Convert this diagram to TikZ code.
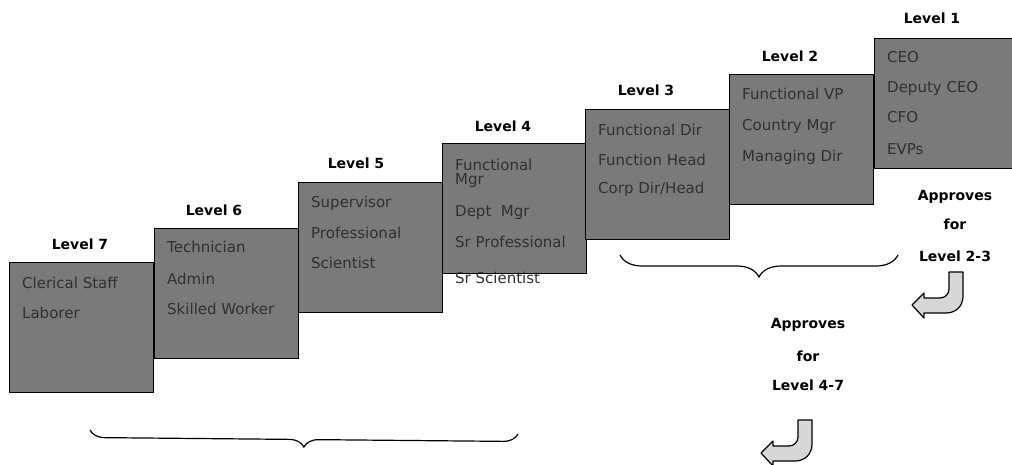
\documentclass[tikz,border=0pt]{standalone}
\usepackage{fontspec}
\setmainfont{DejaVu Sans}
\usetikzlibrary{decorations.pathreplacing}
\definecolor{boxfill}{RGB}{122,122,122}
\definecolor{boxtext}{RGB}{48,48,48}
\definecolor{arrowfill}{RGB}{215,215,215}
\begin{document}
\begin{tikzpicture}[x=1pt,y=-1pt,
  lvlbox/.style={draw=black,line width=1.3pt,fill=boxfill,minimum width=144pt,minimum height=130pt,anchor=north west,inner sep=0pt},
  boxtxt/.style={anchor=west,text=boxtext,font=\fontsize{15}{17}\selectfont,inner sep=0pt},
  lvl/.style={font=\bfseries\fontsize{14}{16}\selectfont,inner sep=0pt},
  note/.style={font=\bfseries\fontsize{14}{16}\selectfont,inner sep=0pt},
  curbrace/.style={decorate,decoration={brace,amplitude=#1},line width=1.2pt},
  hookarrow/.pic={
    \draw[line width=1.2pt,fill=arrowfill,line join=round]
      (37,0) -- (51,0) -- (51,24) .. controls (51,34) and (44,41) .. (34,41)
      -- (12,41) -- (12,46) -- (0,33) -- (12,21) -- (12,26) -- (28,26)
      .. controls (33,26) and (37,22) .. (37,17) -- cycle;
  }]
\useasboundingbox (0,0) rectangle (1012,464);

% boxes
\node[lvlbox] (L7) at (9,262) {};
\node[lvlbox] (L6) at (154,228) {};
\node[lvlbox] (L5) at (298,182) {};
\node[lvlbox] (L4) at (442,143) {};
\node[lvlbox] (L3) at (585,109) {};
\node[lvlbox] (L2) at (729,74) {};
\node[lvlbox] (L1) at (874,38) {};

% level labels
\node[lvl] (h7) at (80,244) {Level 7};
\node[lvl] (h6) at (214,210) {Level 6};
\node[lvl] (h5) at (356,163) {Level 5};
\node[lvl] (h4) at (503,126) {Level 4};
\node[lvl] (h3) at (646,90) {Level 3};
\node[lvl] (h2) at (790,56) {Level 2};
\node[lvl] (h1) at (932,18) {Level 1};

% box texts
\node[boxtxt] (t7a) at (22,283) {Clerical Staff};
\node[boxtxt] (t7b) at (22,313) {Laborer};

\node[boxtxt] (t6a) at (167,247) {Technician};
\node[boxtxt] (t6b) at (167,279) {Admin};
\node[boxtxt] (t6c) at (167,309) {Skilled Worker};

\node[boxtxt] (t5a) at (311,203) {Supervisor};
\node[boxtxt] (t5b) at (311,233) {Professional};
\node[boxtxt] (t5c) at (311,263) {Scientist};

\node[boxtxt] (t4a) at (455,165) {Functional};
\node[boxtxt] (t4b) at (455,181) {Mgr};
\node[boxtxt] (t4c) at (455,213) {Dept\ \ Mgr};
\node[boxtxt] (t4d) at (455,242) {Sr Professional};
\node[boxtxt] (t4e) at (455,278) {Sr Scientist};

\node[boxtxt] (t3a) at (598,130) {Functional Dir};
\node[boxtxt] (t3b) at (598,160) {Function Head};
\node[boxtxt] (t3c) at (598,189) {Corp Dir/Head};

\node[boxtxt] (t2a) at (742,94) {Functional VP};
\node[boxtxt] (t2b) at (742,126) {Country Mgr};
\node[boxtxt] (t2c) at (742,157) {Managing Dir};

\node[boxtxt] (t1a) at (887,57) {CEO};
\node[boxtxt] (t1b) at (887,88) {Deputy CEO};
\node[boxtxt] (t1c) at (887,117) {CFO};
\node[boxtxt] (t1d) at (887,149) {EVPs};

% approval notes
\node[note] (n1a) at (955,197) {Approves};
\node[note] (n1b) at (955,224) {for};
\node[note] (n1c) at (955,256) {Level 2-3};
\node[note] (n2a) at (808,325) {Approves};
\node[note] (n2b) at (808,356) {for};
\node[note] (n2c) at (808,385) {Level 4-7};

% braces
\coordinate (b1s) at (898,255);
\coordinate (b1e) at (620,255);
\draw[curbrace=22] (b1s) -- (b1e);
\coordinate (b2s) at (518,434);
\coordinate (b2e) at (90,430);
\draw[curbrace=15] (b2s) -- (b2e);

% hook arrows
\pic (arrA) at (912,272) {hookarrow};
\pic (arrB) at (761,420) {hookarrow};
\end{tikzpicture}
\end{document}
